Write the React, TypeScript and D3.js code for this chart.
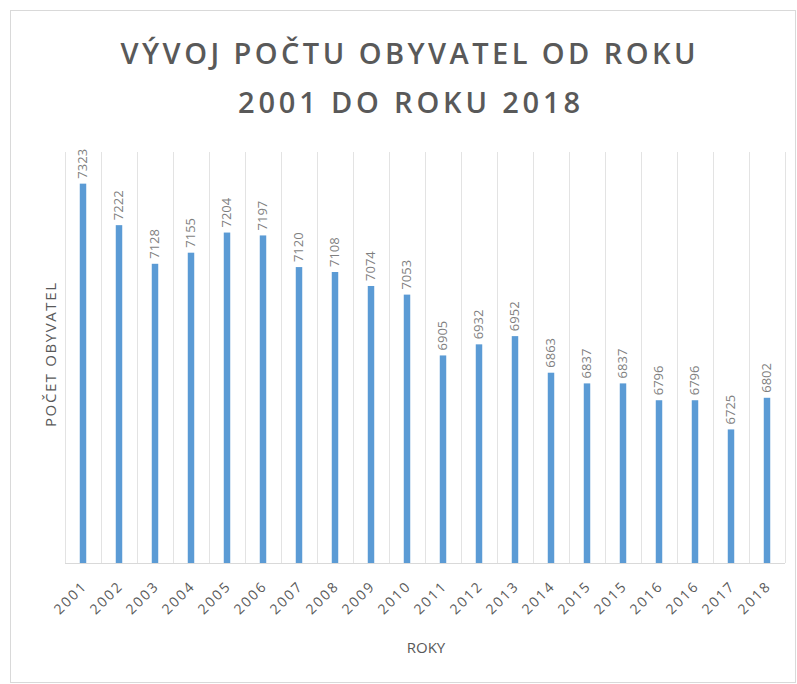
import React from "react";
import * as d3 from "d3";

// roky (2015 a 2016 jsou v podkladech dvakrát)
const years = ["2001", "2002", "2003", "2004", "2005", "2006", "2007", "2008", "2009", "2010",
  "2011", "2012", "2013", "2014", "2015", "2015", "2016", "2016", "2017", "2018"];
const population = [7323, 7222, 7128, 7155, 7204, 7197, 7120, 7108, 7074, 7053,
  6905, 6932, 6952, 6863, 6837, 6837, 6796, 6796, 6725, 6802];
const titleLines = ["VÝVOJ POČTU OBYVATEL OD ROKU", "2001 DO ROKU 2018"];
const yTitle = "POČET OBYVATEL";
const xTitle = "ROKY";

const W = 797;
const H = 684;
const plot = { left: 65, right: 785, top: 152, bottom: 563 };
const font = "'Open Sans', Calibri, sans-serif";

export default function App() {
  const idx = years.map((_, i) => String(i));
  const x = d3.scaleBand()
    .domain(idx)
    .range([plot.left, plot.right])
    .paddingInner(0.82)
    .paddingOuter(0.41);
  const y = d3.scaleLinear()
    .domain([6400, 7400])
    .range([plot.bottom, plot.top]);

  const step = x.step();
  const bw = x.bandwidth();
  const grid = d3.range(years.length + 1).map(i => plot.left + i * step);

  return (
    <svg width={W} height={H} style={{ position: "absolute", left: 0, top: 0 }}>
      <rect x={0} y={0} width={W} height={H} fill="#fff" />
      <rect x={10.5} y={10.5} width={785} height={672} fill="none" stroke="#d9d9d9" />

      {/* title */}
      <g fill="#595959" fontFamily={font} fontWeight={600} fontSize={29}>
        <text x={408} y={64} textAnchor="middle" textLength={575} lengthAdjust="spacing">{titleLines[0]}</text>
        <text x={409} y={113} textAnchor="middle" textLength={342} lengthAdjust="spacing">{titleLines[1]}</text>
      </g>

      {/* vertical gridlines */}
      <g stroke="#e3e3e3" strokeWidth={1}>
        {grid.map((gx, i) => (
          <line key={i} x1={Math.round(gx) + 0.5} x2={Math.round(gx) + 0.5} y1={plot.top} y2={plot.bottom} />
        ))}
      </g>

      {/* bars */}
      <g fill="#5b9bd5">
        {population.map((v, i) => (
          <rect key={i} x={x(String(i))} y={y(v)} width={bw} height={plot.bottom - y(v)} />
        ))}
      </g>

      {/* baseline */}
      <line x1={plot.left} x2={plot.right} y1={plot.bottom + 0.5} y2={plot.bottom + 0.5} stroke="#d9d9d9" />

      {/* value labels */}
      <g fill="#7f7f7f" fontFamily={font} fontSize={13}>
        {population.map((v, i) => {
          const cx = (x(String(i)) as number) + bw / 2 + 4;
          const ty = y(v) - 5;
          return (
            <text key={i} transform={`translate(${cx},${ty}) rotate(-90)`} textAnchor="start">{v}</text>
          );
        })}
      </g>

      {/* x tick labels */}
      <g fill="#595959" fontFamily={font} fontSize={14} letterSpacing={2}>
        {years.map((yr, i) => {
          const cx = (x(String(i)) as number) + bw / 2 + 5;
          return (
            <text key={i} transform={`translate(${cx},${plot.bottom + 24}) rotate(-45)`} textAnchor="end">{yr}</text>
          );
        })}
      </g>

      {/* axis titles */}
      <text x={426} y={653} textAnchor="middle" fill="#595959" fontFamily={font} fontSize={15}>{xTitle}</text>
      <text transform={`translate(56,355) rotate(-90)`} textAnchor="middle" fill="#595959" fontFamily={font} fontSize={15}
        textLength={144} lengthAdjust="spacing">{yTitle}</text>
    </svg>
  );
}
